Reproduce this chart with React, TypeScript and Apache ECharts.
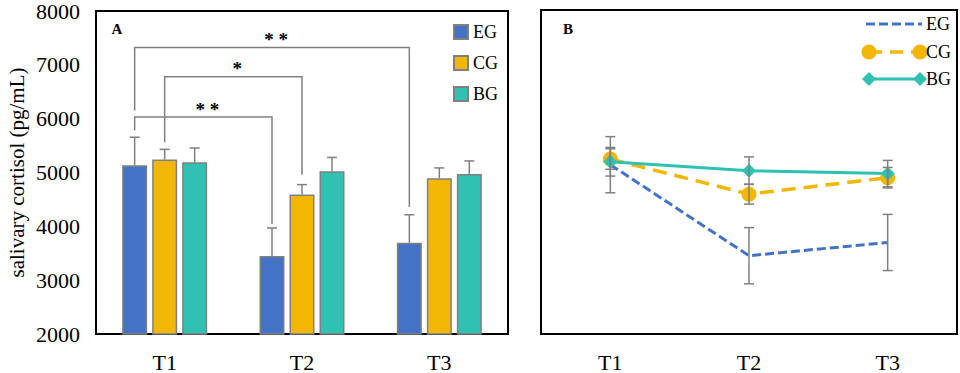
import React, { useEffect, useRef } from "react";
import * as echarts from "echarts";

const categories = ["T1", "T2", "T3"];
const groups = ["EG", "CG", "BG"];
const egMean = [5135, 3450, 3695];
const cgMean = [5240, 4590, 4895];
const bgMean = [5190, 5025, 4970];
const egErr = [520, 520, 520];
const cgErr = [190, 185, 190];
const bgErr = [265, 255, 245];
const yTicks = [2000, 3000, 4000, 5000, 6000, 7000, 8000];

// significance brackets: [fromCategory, fromGroup], [toCategory, toGroup]
const bracketFrom = [[0, 0], [0, 1], [0, 0]];
const bracketTo = [[2, 0], [1, 1], [1, 0]];
const bracketLevel = [7320, 6780, 6030];
const bracketLeftEnd = [6150, 5560, 5780];
const bracketRightEnd = [4360, 4960, 4040];
const bracketLabel = ["* *", "*", "* *"];

const COLORS = ["#4472C4", "#F2B705", "#2FC1B2"];
const ERR_COLOR = "#808080";
const FONT = '"Liberation Serif", "Times New Roman", serif';
const BAR_W = 25;
const BAR_GAP = 5;

const means = [egMean, cgMean, bgMean];
const errs = [egErr, cgErr, bgErr];

export default function App() {
  const ref = useRef<HTMLDivElement>(null);
  useEffect(() => {
    if (!ref.current) return;
    const chart = echarts.init(ref.current, undefined, { renderer: "svg" });

    const errData: number[][] = [];
    groups.forEach((_, g) =>
      categories.forEach((_, c) => errData.push([c, means[g][c], errs[g][c], g]))
    );
    const bracketData = bracketLevel.map((lv, i) => [i, lv]);

    const bracketSeries = {
      type: "custom",
      xAxisIndex: 0,
      yAxisIndex: 0,
      clip: false,
      silent: true,
      z: 5,
      data: bracketData,
      encode: { x: 0, y: 1 },
      renderItem: (params: any, api: any) => {
        const i = api.value(0);
        const off = (g: number) => (g - 1) * (BAR_W + BAR_GAP);
        const [fc, fg] = bracketFrom[i];
        const [tc, tg] = bracketTo[i];
        const pTop = api.coord([fc, bracketLevel[i]]);
        const x1 = api.coord([fc, bracketLevel[i]])[0] + off(fg);
        const x2 = api.coord([tc, bracketLevel[i]])[0] + off(tg);
        const yTop = pTop[1];
        const yL = api.coord([fc, bracketLeftEnd[i]])[1];
        const yR = api.coord([tc, bracketRightEnd[i]])[1];
        return {
          type: "group",
          children: [
            {
              type: "polyline",
              shape: { points: [[x1, yL], [x1, yTop], [x2, yTop], [x2, yR]] },
              style: { stroke: ERR_COLOR, lineWidth: 1.5, fill: "none" },
            },
            {
              type: "text",
              style: {
                text: bracketLabel[i],
                x: (x1 + x2) / 2 + 4,
                y: yTop - 8,
                align: "center",
                verticalAlign: "middle",
                fontSize: 19,
                fontWeight: "bold",
                fontFamily: FONT,
                fill: "#000",
              },
            },
          ],
        };
      },
    };

    const barErrSeries = {
      type: "custom",
      xAxisIndex: 0,
      yAxisIndex: 0,
      clip: false,
      silent: true,
      z: 4,
      data: errData,
      encode: { x: 0, y: 1 },
      renderItem: (params: any, api: any) => {
        const c = api.value(0), m = api.value(1), e = api.value(2), g = api.value(3);
        const p0 = api.coord([c, m]);
        const p1 = api.coord([c, m + e]);
        const x = p0[0] + (g - 1) * (BAR_W + BAR_GAP);
        const st = { stroke: ERR_COLOR, lineWidth: 1.5 };
        return {
          type: "group",
          children: [
            { type: "line", shape: { x1: x, y1: p0[1], x2: x, y2: p1[1] }, style: st },
            { type: "line", shape: { x1: x - 5, y1: p1[1], x2: x + 5, y2: p1[1] }, style: st },
          ],
        };
      },
    };

    const lineErrSeries = {
      type: "custom",
      xAxisIndex: 1,
      yAxisIndex: 1,
      clip: false,
      silent: true,
      z: 10,
      data: errData,
      encode: { x: 0, y: 1 },
      renderItem: (params: any, api: any) => {
        const c = api.value(0), m = api.value(1), e = api.value(2);
        const pt = api.coord([c, m + e]);
        const pb = api.coord([c, m - e]);
        const x = pt[0];
        const st = { stroke: ERR_COLOR, lineWidth: 1.5 };
        return {
          type: "group",
          children: [
            { type: "line", shape: { x1: x, y1: pt[1], x2: x, y2: pb[1] }, style: st },
            { type: "line", shape: { x1: x - 5, y1: pt[1], x2: x + 5, y2: pt[1] }, style: st },
            { type: "line", shape: { x1: x - 5, y1: pb[1], x2: x + 5, y2: pb[1] }, style: st },
          ],
        };
      },
    };

    const barSeries = groups.map((name, g) => ({
      type: "bar",
      name,
      xAxisIndex: 0,
      yAxisIndex: 0,
      barWidth: BAR_W,
      barGap: "20%",
      data: means[g],
      itemStyle: { color: COLORS[g], borderColor: ERR_COLOR, borderWidth: 1.5 },
      z: 2,
    }));

    const lineSeries = [
      {
        type: "line",
        name: "CG",
        xAxisIndex: 1,
        yAxisIndex: 1,
        data: cgMean,
        symbol: "circle",
        symbolSize: 15,
        lineStyle: { color: COLORS[1], width: 3.5, type: [14, 8] },
        itemStyle: { color: COLORS[1] },
        z: 3,
      },
      {
        type: "line",
        name: "EG",
        xAxisIndex: 1,
        yAxisIndex: 1,
        data: egMean,
        symbol: "none",
        lineStyle: { color: COLORS[0], width: 3, type: [9, 4] },
        itemStyle: { color: COLORS[0] },
        z: 4,
      },
      {
        type: "line",
        name: "BG",
        xAxisIndex: 1,
        yAxisIndex: 1,
        data: bgMean,
        symbol: "diamond",
        symbolSize: 14,
        lineStyle: { color: COLORS[2], width: 3 },
        itemStyle: { color: COLORS[2] },
        z: 5,
      },
    ];

    const legY = [24, 52, 79];
    const lx1 = 869, lx2 = 920;
    const graphics: any[] = [
      { type: "text", x: 117, y: 29, style: { text: "A", fontSize: 15, fontWeight: "bold", fontFamily: FONT, fill: "#000", align: "center", verticalAlign: "middle" } },
      { type: "text", x: 568, y: 29, style: { text: "B", fontSize: 15, fontWeight: "bold", fontFamily: FONT, fill: "#000", align: "center", verticalAlign: "middle" } },
      { type: "line", shape: { x1: 866, y1: legY[0], x2: 922, y2: legY[0] }, style: { stroke: COLORS[0], lineWidth: 3, lineDash: [9, 4] } },
      { type: "line", shape: { x1: lx1, y1: legY[1], x2: lx2, y2: legY[1] }, style: { stroke: COLORS[1], lineWidth: 3.5, lineDash: [13, 8] } },
      { type: "circle", shape: { cx: lx1, cy: legY[1], r: 7.5 }, style: { fill: COLORS[1] } },
      { type: "circle", shape: { cx: lx2, cy: legY[1], r: 7.5 }, style: { fill: COLORS[1] } },
      { type: "line", shape: { x1: lx1, y1: legY[2], x2: lx2, y2: legY[2] }, style: { stroke: COLORS[2], lineWidth: 3 } },
      { type: "polygon", shape: { points: [[lx1 - 7, legY[2]], [lx1, legY[2] - 7], [lx1 + 7, legY[2]], [lx1, legY[2] + 7]] }, style: { fill: COLORS[2] } },
      { type: "polygon", shape: { points: [[lx2 - 7, legY[2]], [lx2, legY[2] - 7], [lx2 + 7, legY[2]], [lx2, legY[2] + 7]] }, style: { fill: COLORS[2] } },
    ];
    groups.forEach((name, g) =>
      graphics.push({
        type: "text",
        x: 926,
        y: legY[g],
        style: { text: name, fontSize: 18, fontFamily: FONT, fill: "#000", align: "left", verticalAlign: "middle" },
      })
    );

    const yAxisBase = {
      type: "value",
      min: yTicks[0],
      max: yTicks[yTicks.length - 1],
      interval: 1000,
      axisLine: { show: false },
      axisTick: { show: false },
      splitLine: { show: false },
    };
    const xAxisBase = {
      type: "category",
      data: categories,
      axisLine: { show: false },
      axisTick: { show: false },
      axisLabel: { fontSize: 22, fontFamily: FONT, color: "#000", margin: 17 },
    };

    chart.setOption({
      animation: false,
      backgroundColor: "#fff",
      textStyle: { fontFamily: FONT },
      grid: [
        { left: 96, top: 10, width: 412, height: 324, show: true, borderColor: "#000", borderWidth: 2, backgroundColor: "transparent" },
        { left: 541, top: 10, width: 416, height: 324, show: true, borderColor: "#000", borderWidth: 2, backgroundColor: "transparent" },
      ],
      xAxis: [
        { ...xAxisBase, gridIndex: 0 },
        { ...xAxisBase, gridIndex: 1 },
      ],
      yAxis: [
        {
          ...yAxisBase,
          gridIndex: 0,
          axisLabel: { fontSize: 22, fontFamily: FONT, color: "#000", margin: 16, formatter: (v: number) => String(v) },
          name: "salivary cortisol (pg/mL)",
          nameLocation: "middle",
          nameGap: 69,
          nameTextStyle: { fontSize: 21, fontFamily: FONT, color: "#000" },
        },
        { ...yAxisBase, gridIndex: 1, axisLabel: { show: false } },
      ],
      legend: {
        data: groups,
        orient: "vertical",
        left: 453,
        top: 23,
        padding: 0,
        icon: "rect",
        itemWidth: 14,
        itemHeight: 14,
        itemGap: 13,
        selectedMode: false,
        textStyle: { fontSize: 18, fontFamily: FONT, color: "#000" },
      },
      graphic: graphics,
      series: [...barSeries, barErrSeries, bracketSeries, ...lineSeries, lineErrSeries],
    });
    return () => chart.dispose();
  }, []);
  return (
    <div
      ref={ref}
      style={{ position: "fixed", left: 0, top: 0, width: 960, height: 373, background: "#fff" }}
    />
  );
}
